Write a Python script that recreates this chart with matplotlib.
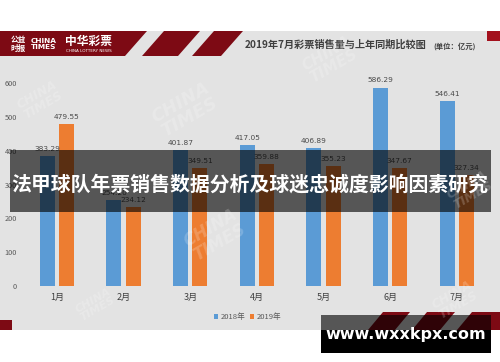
import matplotlib
matplotlib.use("Agg")
import matplotlib.pyplot as plt
import numpy as np
from matplotlib.patches import Polygon, Rectangle

plt.rcParams['font.family'] = ['Noto Sans CJK SC', 'DejaVu Sans']

months = ['1月', '2月', '3月', '4月', '5月', '6月', '7月']
sales_2018 = [383.29, 254.20, 401.87, 417.05, 406.89, 586.29, 546.41]
sales_2019 = [479.55, 234.12, 349.51, 359.88, 355.23, 347.67, 327.34]
series_names = ['2018年', '2019年']
yticks = [0, 100, 200, 300, 400, 500, 600]

blue = '#5b9bd5'
orange = '#ed7d31'
panel = '#e3e3e3'
darkred = '#7d0a14'
W, H = 500, 362

fig = plt.figure(figsize=(W / 100, H / 100), dpi=100)

# background layer in pixel coordinates
bg = fig.add_axes([0, 0, 1, 1], zorder=0)
bg.set_xlim(0, W)
bg.set_ylim(H, 0)
bg.axis('off')
bg.add_patch(Rectangle((0, 31), W, 299, color=panel, lw=0))
# header band with slanted stripes
bg.add_patch(Polygon([(0, 31), (147, 31), (125, 56), (0, 56)], color=darkred, lw=0))
bg.add_patch(Polygon([(164, 31), (200, 31), (178, 56), (142, 56)], color=darkred, lw=0))
bg.add_patch(Polygon([(214, 31), (243, 31), (221, 56), (192, 56)], color=darkred, lw=0))
bg.add_patch(Rectangle((487, 31), 13, 10, color='#a3101c', lw=0))
bg.add_patch(Rectangle((0, 320), 12, 10, color=darkred, lw=0))
for x0, x1 in [(368, 395), (412, 440), (457, 500)]:
    bg.add_patch(Polygon([(x0 + 15, 312), (x1 + 15, 312), (x1, 330), (x0, 330)],
                         color=darkred, lw=0))
bg.text(18, 44, '公益\n时报', color='white', fontsize=5.5, fontweight='bold',
        ha='center', va='center', linespacing=0.9)
bg.text(44, 44, 'CHINA\nTIMES', color='white', fontsize=5.3, fontweight='heavy',
        ha='center', va='center', linespacing=1.0, family='DejaVu Sans')
bg.text(89, 41, '中华彩票', color='white', fontsize=8.5, fontweight='bold',
        ha='center', va='center')
bg.text(89, 51, 'CHINA LOTTERY NEWS', color='white', fontsize=3, ha='center',
        va='center', family='DejaVu Sans')
bg.text(245, 45, '2019年7月彩票销售量与上年同期比较图', color='#3f3f3f', fontsize=7.3,
        fontweight='bold', style='italic', ha='left', va='center')
bg.text(433, 46, '(单位：亿元)', color='#3f3f3f', fontsize=5.3,
        fontweight='bold', style='italic', ha='left', va='center')

# chart
ax = fig.add_axes([23.7 / W, (H - 286) / H, 466.3 / W, 203 / H], zorder=1)
ax.patch.set_alpha(0)
x = np.arange(len(months))
bw = 0.225
off = 0.145
b1 = ax.bar(x - off, sales_2018, bw, color=blue, label=series_names[0])
b2 = ax.bar(x + off, sales_2019, bw, color=orange, label=series_names[1])
for bars in (b1, b2):
    for r in bars:
        ax.annotate(f'{r.get_height():.2f}', (r.get_x() + r.get_width() / 2, r.get_height()),
                    xytext=(0, 3), textcoords='offset points', ha='center', va='bottom',
                    fontsize=5.3, color='#4a4a4a', family='DejaVu Sans', annotation_clip=False)
ax.set_xlim(-0.5, len(months) - 0.5)
ax.set_ylim(0, 600)
ax.set_yticks(yticks)
ax.set_xticks(x)
ax.set_xticklabels(months)
ax.tick_params(axis='y', length=0, pad=5, labelsize=5.3, labelcolor='#595959')
ax.tick_params(axis='x', length=0, pad=5, labelsize=6.5, labelcolor='#404040')
for s in ax.spines.values():
    s.set_visible(False)
leg = ax.legend(loc='upper center', bbox_to_anchor=(0.48, -0.1), ncol=2, frameon=False,
                fontsize=5.5, handlelength=0.6, handleheight=0.6, columnspacing=0.6,
                handletextpad=0.3, labelcolor='#595959')

# overlay layer
fg = fig.add_axes([0, 0, 1, 1], zorder=2)
fg.patch.set_alpha(0)
fg.set_xlim(0, W)
fg.set_ylim(H, 0)
fg.axis('off')
for (wx, wy, sz) in [(185, 110, 13), (215, 235, 12), (40, 100, 9), (330, 60, 11),
                     (455, 300, 9), (95, 305, 8), (470, 190, 9)]:
    fg.text(wx, wy, 'CHINA\nTIMES', color='white', alpha=0.2, fontsize=sz,
            fontweight='heavy', style='italic', rotation=30, ha='center', va='center',
            family='DejaVu Sans', linespacing=0.9)
fg.add_patch(Rectangle((10, 150), 481, 61.5, color='black', alpha=0.62, lw=0))
fg.text(250, 184, '法甲球队年票销售数据分析及球迷忠诚度影响因素研究', color='white',
        fontsize=14.3, fontweight='bold', ha='center', va='center')
fg.add_patch(Rectangle((321, 315), 170, 15, color='black', alpha=0.62, lw=0))
fg.add_patch(Rectangle((321, 330), 170, 23, color='black', lw=0))
fg.text(406, 335, 'www.wxxkpx.com', color='white', fontsize=11.5, fontweight='bold',
        ha='center', va='center', family='DejaVu Sans')

fig.savefig('out.png', dpi=100)
